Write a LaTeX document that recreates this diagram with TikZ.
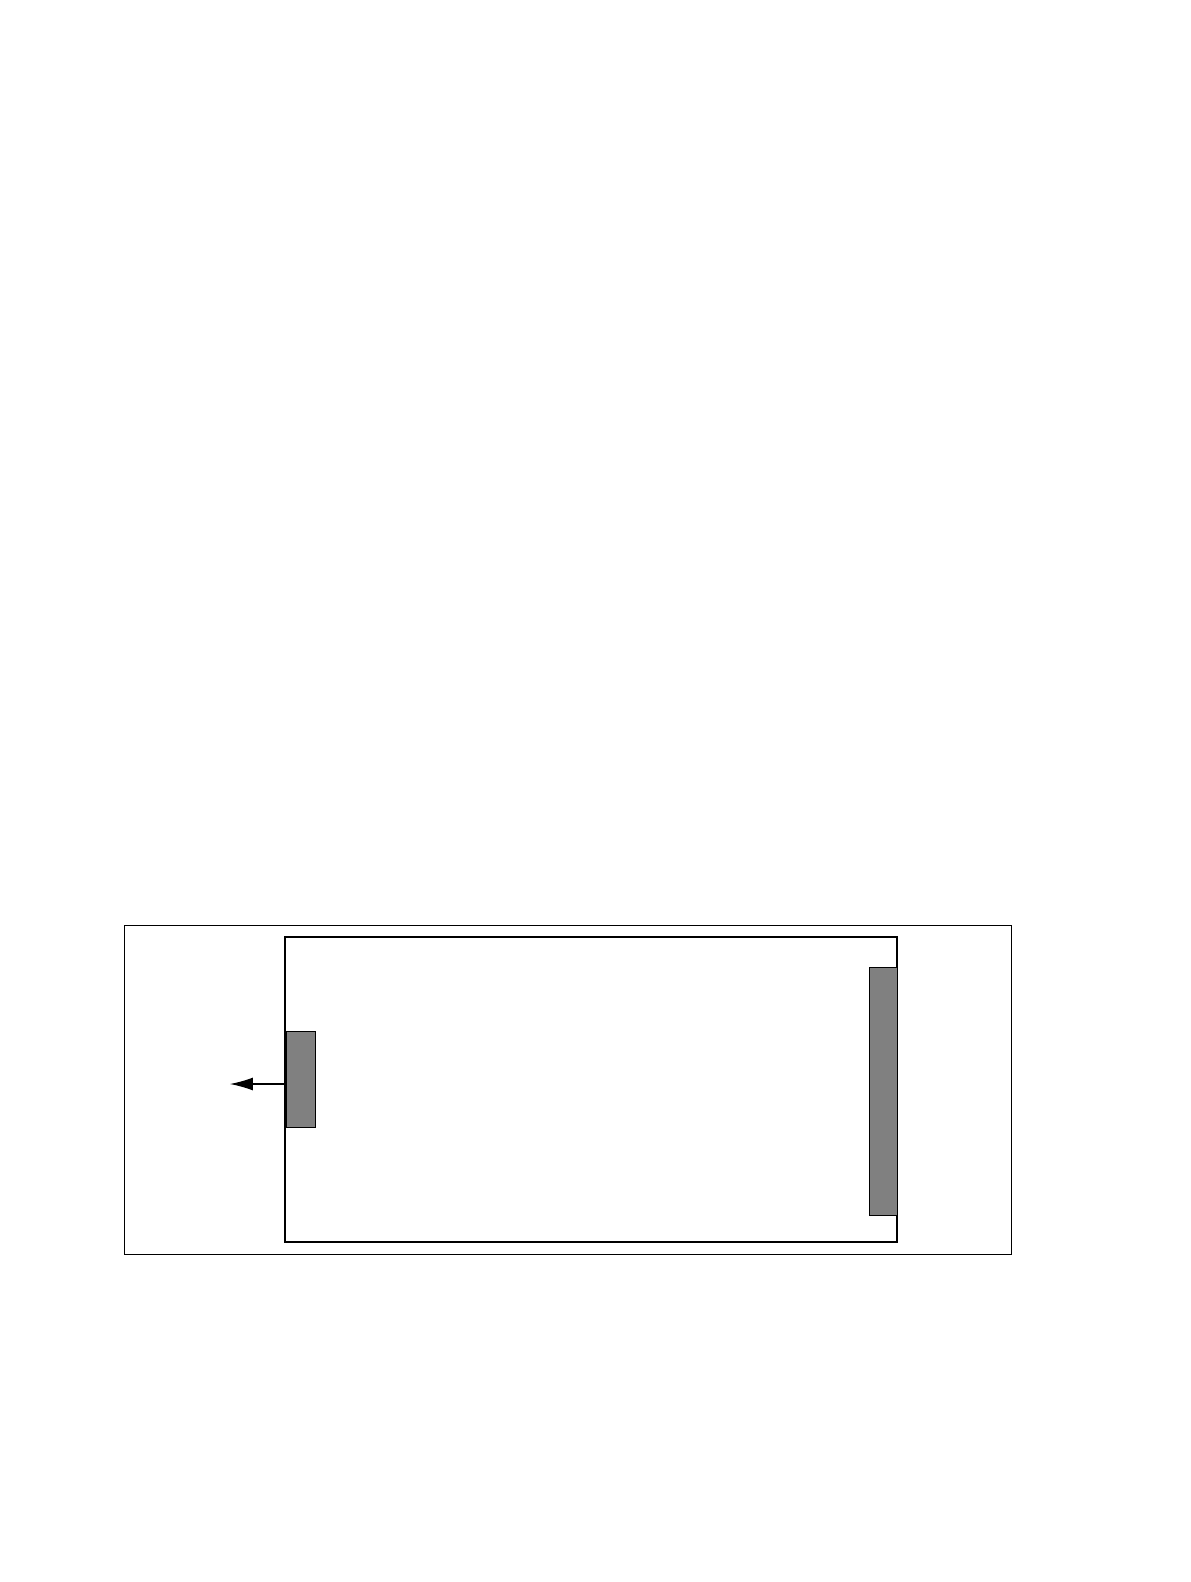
\documentclass[tikz,border=0pt]{standalone}
\usetikzlibrary{arrows.meta}
\tikzset{
  port/.style={draw, thin, fill=gray, inner sep=0pt, anchor=north west},
}
\begin{document}
\begin{tikzpicture}[x=0.02cm, y=-0.02cm]
      \useasboundingbox (0,0) rectangle (1190,1582);
      \draw[line width=0.45pt] (124,925) rectangle (1011,1254);
      \draw[line width=1.3pt] (285,937) rectangle (897,1242);
      \node[port, minimum width=0.58cm, minimum height=1.92cm] (lport) at (286,1031) {};
      \node[port, minimum width=0.56cm, minimum height=4.96cm] (rport) at (869,967) {};
      \coordinate (out) at (230,1084);
      \draw[line width=0.6pt, -{Latex[length=4.6mm, width=2.6mm]}] (lport.west |- out) -- (out);
    \end{tikzpicture}
\end{document}
